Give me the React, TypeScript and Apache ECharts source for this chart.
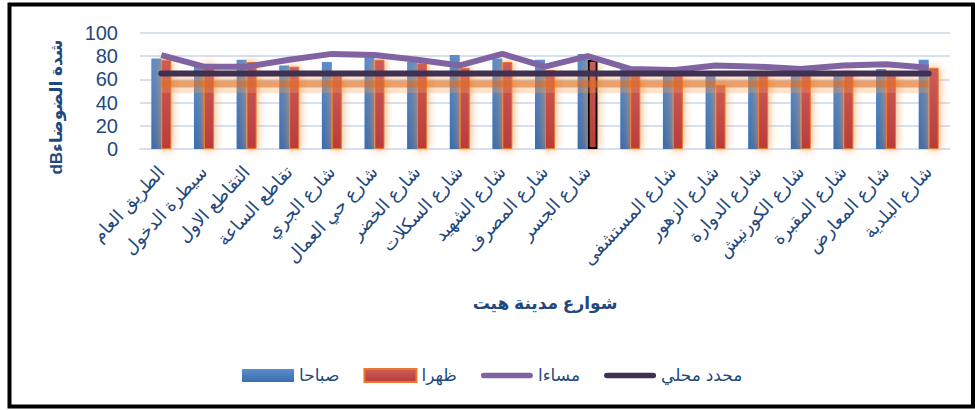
import React, { useEffect, useRef } from "react";
import * as echarts from "echarts";

const categories = [
  "الطريق العام",
  "سيطرة الدخول",
  "التقاطع الاول",
  "تقاطع الساعة",
  "شارع الجري",
  "شارع حي العمال",
  "شارع الخضر",
  "شارع السكلات",
  "شارع الشهيد",
  "شارع المصرف",
  "شارع الجسر",
  "",
  "شارع المستشفى",
  "شارع الزهور",
  "شارع الدوارة",
  "شارع الكورنيش",
  "شارع المقبرة",
  "شارع المعارض",
  "شارع البلدية",
];

const morning = [78, 71, 77, 72, 75, 79, 75, 81, 78, 77, 82, 70, 69, 66, 66, 65, 66, 69, 77];
const noon = [77, 73, 75, 71, 63, 77, 74, 70, 75, 68, 77, 63, 64, 55, 66, 65, 67, 67, 70];
const evening = [81, 71, 71, 77, 82, 81, 77, 72, 82, 71, 80, 69, 68, 72, 71, 69, 72, 73, 70];
const localLimit = [65, 65, 65, 65, 65, 65, 65, 65, 65, 65, 65, 65, 65, 65, 65, 65, 65, 65, 65];
const glowBand = [56, 56, 56, 56, 56, 56, 56, 56, 56, 56, 56, 56, 56, 56, 56, 56, 56, 56, 56];
const yTicks = { min: 0, max: 100, interval: 20 };

const seriesNames = ["صباحا", "ظهرا", "مساءا", "محدد محلي"];
// visual order for an LTR-laid-out SVG text: "dB" ends at the bottom when rotated
const yTitle = "dBشدة الضوضاء";
const xTitle = "شوارع مدينة هيت";

const FONT = '"Liberation Sans", Arial, "DejaVu Sans", sans-serif';
const TEXT = "#1F497D";
const LINE_ICON = "path://M3,0 L53,0 A3,3 0 0 1 53,6 L3,6 A3,3 0 0 1 3,0 Z";

export default function App() {
  const ref = useRef<HTMLDivElement>(null);

  useEffect(() => {
    if (!ref.current) return;
    const chart = echarts.init(ref.current, undefined, { renderer: "svg" });

    const blueGrad = new echarts.graphic.LinearGradient(0, 0, 0, 1, [
      { offset: 0, color: "#5B8DCB" },
      { offset: 1, color: "#3A6DAE" },
    ]);
    const redGrad = new echarts.graphic.LinearGradient(0, 0, 0, 1, [
      { offset: 0, color: "#CD5C59" },
      { offset: 1, color: "#B93C39" },
    ]);

    const noonData = noon.map((v, i) =>
      i === 10
        ? { value: v, itemStyle: { borderColor: "#000000", borderWidth: 2 } }
        : v
    );

    chart.setOption({
      animation: false,
      textStyle: { fontFamily: FONT },
      grid: { left: 140, right: 25, top: 33, bottom: 261, containLabel: false },
      legend: {
        left: 237,
        top: 362,
        itemWidth: 52,
        itemHeight: 13,
        itemGap: 24,
        textStyle: { fontSize: 17, color: TEXT, fontFamily: FONT },
        data: [
          { name: seriesNames[0], icon: "rect" },
          { name: seriesNames[1], icon: "rect", itemStyle: { borderColor: "#E8782C", borderWidth: 2 } },
          { name: seriesNames[2], icon: LINE_ICON },
          { name: seriesNames[3], icon: LINE_ICON },
        ],
      },
      xAxis: {
        type: "category",
        data: categories,
        name: xTitle,
        nameLocation: "middle",
        nameGap: 146,
        nameTextStyle: { fontSize: 17, fontWeight: "bold", color: TEXT, fontFamily: FONT },
        axisLine: { show: true, lineStyle: { color: "#D6E0F0", width: 2 } },
        axisTick: { show: false },
        axisLabel: {
          rotate: 47,
          interval: 0,
          margin: 20,
          fontSize: 18,
          color: TEXT,
          fontFamily: FONT,
        },
      },
      yAxis: {
        type: "value",
        min: yTicks.min,
        max: yTicks.max,
        interval: yTicks.interval,
        axisLine: { show: false },
        axisTick: { show: false },
        axisLabel: { fontSize: 20, color: TEXT, margin: 22, fontFamily: FONT },
        splitLine: { lineStyle: { color: "#D6E0F0", width: 2 } },
      },
      graphic: [
        {
          type: "rect",
          shape: { x: 9.5, y: 4.5, width: 963.5, height: 402 },
          style: { fill: "none", stroke: "#000000", lineWidth: 4 },
          silent: true,
        },
        {
          type: "text",
          x: 56,
          y: 107,
          rotation: Math.PI / 2,
          style: {
            text: yTitle,
            align: "center",
            verticalAlign: "middle",
            fontSize: 17,
            fontWeight: "bold",
            fill: TEXT,
            fontFamily: FONT,
          },
        },
      ],
      series: [
        {
          name: seriesNames[0],
          type: "bar",
          data: morning,
          barWidth: 10,
          barGap: "0%",
          z: 2,
          itemStyle: { color: blueGrad },
        },
        {
          name: seriesNames[1],
          type: "bar",
          data: noonData,
          barWidth: 10,
          z: 2,
          itemStyle: {
            color: redGrad,
            borderColor: "#E8782C",
            borderWidth: 1,
            shadowColor: "rgba(245,150,70,0.9)",
            shadowBlur: 10,
          },
        },
        {
          name: "glow-halo",
          type: "line",
          data: glowBand,
          symbol: "none",
          silent: true,
          z: 3,
          lineStyle: { color: "rgba(247,160,90,0.3)", width: 18 },
        },
        {
          name: "glow-core",
          type: "line",
          data: glowBand,
          symbol: "none",
          silent: true,
          z: 3,
          lineStyle: { color: "rgba(222,105,25,0.55)", width: 7 },
        },
        {
          name: seriesNames[2],
          type: "line",
          data: evening,
          symbol: "none",
          z: 4,
          lineStyle: { color: "#8064A2", width: 6 },
          itemStyle: { color: "#8064A2" },
        },
        {
          name: seriesNames[3],
          type: "line",
          data: localLimit,
          symbol: "none",
          z: 5,
          lineStyle: { color: "#403152", width: 6, cap: "round" },
          itemStyle: { color: "#403152" },
        },
      ],
    });

    return () => chart.dispose();
  }, []);

  return (
    <div
      ref={ref}
      style={{ position: "absolute", left: 0, top: 0, width: 975, height: 410, background: "#ffffff" }}
    />
  );
}
